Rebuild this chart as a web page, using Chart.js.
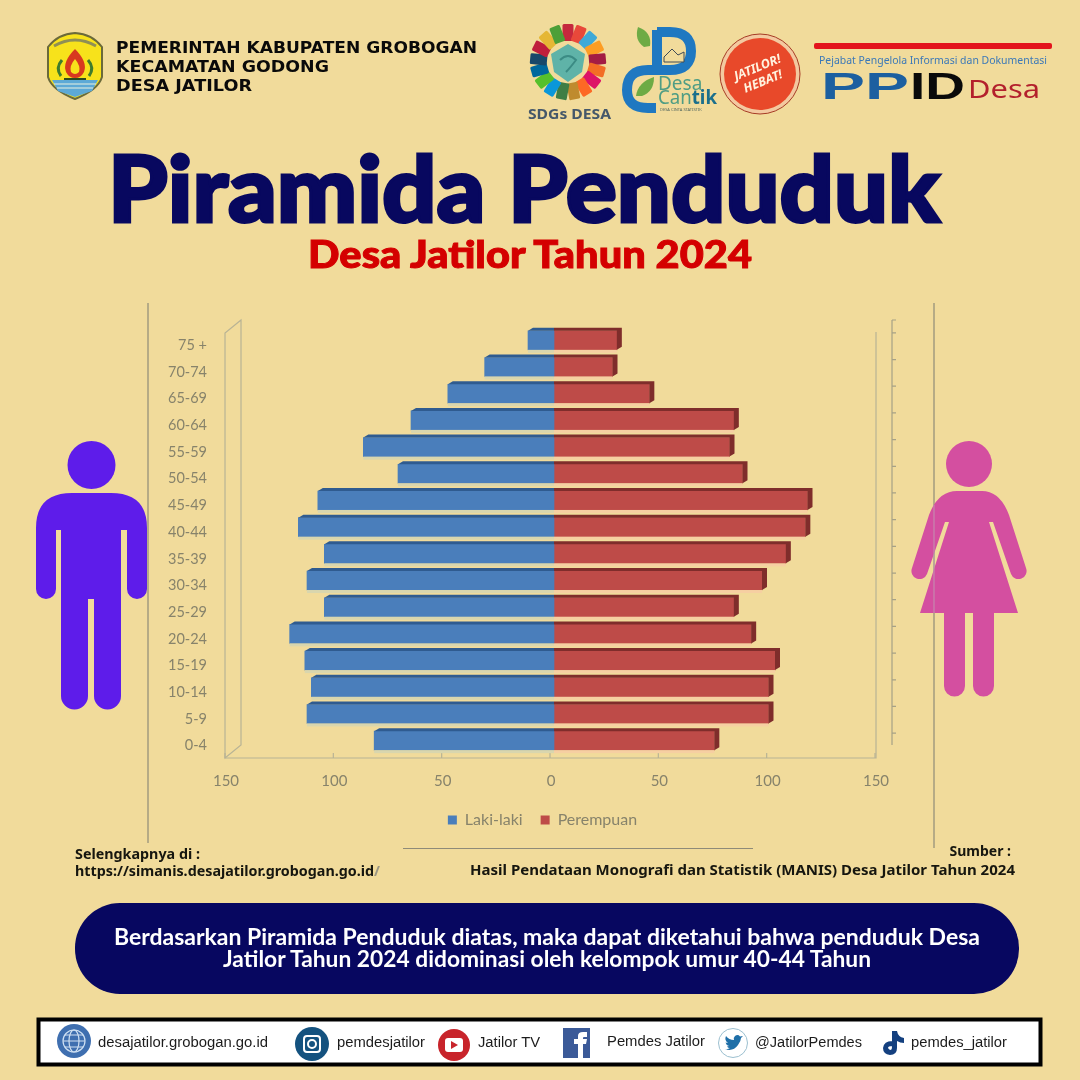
<!DOCTYPE html>
<html>
<head>
<meta charset="utf-8">
<title>Piramida Penduduk Desa Jatilor Tahun 2024</title>
<script src="https://cdn.jsdelivr.net/npm/chart.js@4/dist/chart.umd.min.js"></script>
<style>
  html, body { margin: 0; padding: 0; background: #f1db9b; }
  #page { position: relative; width: 1080px; height: 1080px; overflow: hidden; background: #f1db9b; }
  #pyramid { position: absolute; left: 0; top: 0; }
  #decor { position: absolute; left: 0; top: 0; pointer-events: none; }
  text { font-family: "Noto Sans", sans-serif; }
  .hd { font-family: "DejaVu Sans", sans-serif; font-weight: 700; font-size: 15px; fill: #0a0a0a; }
  .soc { font-family: "Liberation Sans", sans-serif; font-size: 14px; fill: #1c1c1c; }
  .src { font-weight: 700; font-size: 14px; fill: #16160f; }
  .pill { font-family: Lato, sans-serif; font-weight: 700; font-size: 22px; fill: #fff; }
  .ttl { font-family: Lato, sans-serif; font-weight: 900; }
  .ppid { font-family: "Liberation Sans", sans-serif; font-weight: 700; font-size: 36px; }
</style>
</head>
<body>
<div id="page">
  <canvas id="pyramid" width="1080" height="838"></canvas>
  <svg id="decor" width="1080" height="1080" viewBox="0 0 1080 1080">
    <!-- frame lines round the chart -->
    <g stroke="#8f8b78" stroke-width="1.2" fill="none">
      <path d="M148 303V843"/>
      <path d="M934 303V848"/>
      <path d="M403 848.5H753"/>
    </g>

    <!-- header -->
    <g>
      <path d="M48 47Q58 34 75 33Q92 34 102 47V77Q98 90 75 99Q52 90 48 77Z" fill="#f7e21b" stroke="#6b6a3a" stroke-width="2"/>
      <path d="M52 80H98L92 91L75 97L58 91Z" fill="#5da9d6"/>
      <path d="M54 84H96M57 88H93" stroke="#e9f2e0" stroke-width="1.2"/>
      <path d="M75 49Q88 62 84 72Q81 78 75 78Q69 78 66 72Q62 62 75 49Z" fill="#d8391f"/>
      <path d="M75 59Q81 66 79 72Q75 76 71 72Q69 66 75 59Z" fill="#f7e21b"/>
      <path d="M62 60Q55 68 61 76M88 60Q95 68 89 76" stroke="#3f7c2d" stroke-width="3" fill="none"/>
      <path d="M64 79H86" stroke="#2c4a1e" stroke-width="2"/>
      <path d="M54 46Q75 34 96 46" stroke="#8f8f55" stroke-width="3" fill="none"/>
    </g>
    <text class="hd" x="116" y="53" textLength="361" lengthAdjust="spacingAndGlyphs">PEMERINTAH KABUPATEN GROBOGAN</text>
    <text class="hd" x="116" y="72" textLength="213" lengthAdjust="spacingAndGlyphs">KECAMATAN GODONG</text>
    <text class="hd" x="116" y="91" textLength="136" lengthAdjust="spacingAndGlyphs">DESA JATILOR</text>

    <!-- SDGs logo, segments added by the script below -->
    <g id="sdgRing"></g>
    <path d="M568 44L585 54L582 72L568 82L554 72L551 54Z" fill="#5fb3a8"/>
    <path d="M560 60Q568 52 576 60Q570 68 566 72" stroke="#3b8b84" stroke-width="2" fill="none"/>
    <text x="528" y="119" font-size="13.5" font-weight="700" fill="#45586a" textLength="83" lengthAdjust="spacingAndGlyphs">SDGs DESA</text>

    <!-- Desa Cantik logo -->
    <g fill="none" stroke="#1f78c1" stroke-width="10">
      <path d="M657 30V68M657 32H670Q691 32 691 51Q691 70 670 70H648Q627 70 627 90Q627 108 648 108H656"/>
    </g>
    <path d="M644 47Q634 40 638 27Q652 32 650 46Z" fill="#6eab45"/>
    <path d="M636 96Q638 82 654 77Q654 92 642 96Z" fill="#6eab45"/>
    <path d="M664 57L672 49L678 55L684 52V62H664Z" fill="#f1db9b" stroke="#3e4a55" stroke-width="1"/>
    <text x="658" y="90" font-size="19" fill="#4f9d84">Desa</text>
    <text x="658" y="104" font-size="19" fill="#4f9d84" textLength="59" lengthAdjust="spacingAndGlyphs">Can<tspan fill="#1b6f8c" font-weight="700">tik</tspan></text>
    <text x="660" y="111" font-size="4" fill="#55685f">DESA CINTA STATISTIK</text>

    <!-- Jatilor Hebat badge -->
    <circle cx="760" cy="74" r="40" fill="#f3c9a0" stroke="#a53a25" stroke-width="1"/>
    <circle cx="760" cy="74" r="36" fill="#e8492a"/>
    <g transform="rotate(-22 760 74)" fill="#fff3df" text-anchor="middle" font-weight="700" font-style="italic" font-size="12.5">
      <text x="760" y="71">JATILOR!</text>
      <text x="760" y="86">HEBAT!</text>
    </g>

    <!-- PPID logo -->
    <rect x="814" y="43" width="238" height="6" rx="2" fill="#e3141c"/>
    <text x="819" y="64" font-size="10.5" fill="#3b78b8" textLength="228" lengthAdjust="spacingAndGlyphs">Pejabat Pengelola Informasi dan Dokumentasi</text>
    <text class="ppid" x="821" y="99" fill="#1c5fa0" textLength="88" lengthAdjust="spacingAndGlyphs">PP</text>
    <text class="ppid" x="910" y="99" fill="#0a0a0a" textLength="55" lengthAdjust="spacingAndGlyphs">ID</text>
    <text x="968" y="98" font-size="26" fill="#b3202c" textLength="72" lengthAdjust="spacingAndGlyphs">Desa</text>

    <!-- titles -->
    <text class="ttl" x="108" y="222" font-size="92" fill="#08085f" stroke="#08085f" stroke-width="3" textLength="832" lengthAdjust="spacingAndGlyphs">Piramida Penduduk</text>
    <text class="ttl" x="308" y="268" font-size="38" fill="#d40000" stroke="#d40000" stroke-width="1" textLength="444" lengthAdjust="spacingAndGlyphs">Desa Jatilor Tahun 2024</text>

    <!-- figures -->
    <circle cx="91.5" cy="465" r="24" fill="#5e1cea"/>
    <path fill="#5e1cea" d="M36 528Q36 493 72 493H111Q147 493 147 528V589A10 10 0 0 1 127 589V530H121V696A13.5 13.5 0 0 1 94 696V599H88V696A13.5 13.5 0 0 1 61 696V530H56V589A10 10 0 0 1 36 589Z"/>
    <circle cx="969" cy="464" r="23" fill="#d44fa0"/>
    <path fill="#d44fa0" d="M957 491H982Q1000 491 1009 515L1026 568A8 8 0 0 1 1011 574L993 522H989L1018 613H994V686A10.5 10.5 0 0 1 973 686V613H965V686A10.5 10.5 0 0 1 944 686V613H920L949 522H945L927 574A8 8 0 0 1 912 568L929 515Q938 491 957 491Z"/>
    <path d="M934 505V613" stroke="#c0a0b4" stroke-width="1.2" opacity="0.7"/>

    <!-- sources -->
    <text class="src" x="75" y="859" textLength="125" lengthAdjust="spacingAndGlyphs">Selengkapnya di :</text>
    <text class="src" x="75" y="876" textLength="305" lengthAdjust="spacingAndGlyphs">https://simanis.desajatilor.grobogan.go.id<tspan fill="#9a9684">/</tspan></text>
    <text class="src" x="1011" y="856" text-anchor="end">Sumber :</text>
    <text class="src" x="470" y="875" textLength="545" lengthAdjust="spacingAndGlyphs">Hasil Pendataan Monografi dan Statistik (MANIS) Desa Jatilor Tahun 2024</text>

    <!-- conclusion pill -->
    <rect x="75" y="903" width="944" height="91" rx="45" fill="#070760"/>
    <text class="pill" x="114" y="945" textLength="866" lengthAdjust="spacingAndGlyphs">Berdasarkan Piramida Penduduk diatas, maka dapat diketahui bahwa penduduk Desa</text>
    <text class="pill" x="223" y="967" textLength="648" lengthAdjust="spacingAndGlyphs">Jatilor Tahun 2024 didominasi oleh kelompok umur 40-44 Tahun</text>

    <!-- social bar -->
    <rect x="38.5" y="1019.5" width="1002" height="45" fill="#fff" stroke="#000" stroke-width="4"/>
    <circle cx="74" cy="1041" r="17" fill="#3f6fb0"/>
    <g stroke="#cfe0f2" stroke-width="1.2" fill="none">
      <circle cx="74" cy="1041" r="11"/><ellipse cx="74" cy="1041" rx="5" ry="11"/><path d="M63 1041H85M65 1035H83M65 1047H83"/>
    </g>
    <text class="soc" x="98" y="1047" textLength="170" lengthAdjust="spacingAndGlyphs">desajatilor.grobogan.go.id</text>
    <circle cx="312" cy="1044" r="17" fill="#14527f"/>
    <rect x="304" y="1036" width="16" height="16" rx="3" fill="none" stroke="#fff" stroke-width="2"/><circle cx="312" cy="1044" r="4" fill="none" stroke="#fff" stroke-width="2"/>
    <text class="soc" x="337" y="1047" textLength="88" lengthAdjust="spacingAndGlyphs">pemdesjatilor</text>
    <circle cx="454" cy="1045" r="16" fill="#c8242b"/>
    <rect x="445" y="1038" width="18" height="14" rx="3" fill="#fff"/><path d="M451 1041L458 1045L451 1049Z" fill="#c8242b"/>
    <text class="soc" x="478" y="1047" textLength="62" lengthAdjust="spacingAndGlyphs">Jatilor TV</text>
    <rect x="563" y="1028" width="27" height="30" fill="#3b5a98"/>
    <path d="M578 1058V1044H574V1039H578V1036Q578 1032 583 1032H587V1037H584Q583 1037 583 1038V1039H587L586 1044H583V1058Z" fill="#fff"/>
    <text class="soc" x="607" y="1046" textLength="98" lengthAdjust="spacingAndGlyphs">Pemdes Jatilor</text>
    <circle cx="733" cy="1043" r="14.5" fill="#fff" stroke="#9cc0d0" stroke-width="1"/>
    <path d="M725 1049Q733 1052 738 1045Q741 1041 741 1038L743 1036L740 1036.5Q738 1034 735 1036Q733 1038 734 1040Q729 1040 726 1036Q724 1040 728 1043L725.5 1042.5Q726 1045 729 1046L727 1046.5Q728 1048 730 1048Q728 1049.5 725 1049Z" fill="#1f6fa8"/>
    <text class="soc" x="755" y="1047" textLength="107" lengthAdjust="spacingAndGlyphs">@JatilorPemdes</text>
    <path d="M892 1031H897Q898 1037 904 1038V1043Q900 1043 897 1041V1048Q897 1055 890 1055Q883 1054 883 1048Q884 1041 892 1041V1046Q888 1046 888 1048Q889 1050 891 1050Q892 1049 892 1047Z" fill="#14407f"/>
    <text class="soc" x="911" y="1047" textLength="96" lengthAdjust="spacingAndGlyphs">pemdes_jatilor</text>
  </svg>
</div>

<script>
const ageGroups = ['75 +', '70-74', '65-69', '60-64', '55-59', '50-54', '45-49', '40-44',
  '35-39', '30-34', '25-29', '20-24', '15-19', '10-14', '5-9', '0-4'];
const lakiLaki = [12, 32, 49, 66, 88, 72, 109, 118, 106, 114, 106, 122, 115, 112, 114, 83];
const perempuan = [29, 27, 44, 83, 81, 87, 117, 116, 107, 96, 83, 91, 102, 99, 99, 74];
const axisTicks = [-150, -100, -50, 0, 50, 100, 150];
const sdgColors = ['#c5283d', '#e8483a', '#3fa9d8', '#fd9d24', '#a31c44', '#f36d25', '#dd1367', '#fd6925',
  '#bf8b2e', '#3f7e44', '#0a97d9', '#56c02b', '#00689d', '#19486a', '#bf1e3c', '#e5b735', '#4c9f38'];

// logo ring
const ns = 'http://www.w3.org/2000/svg';
sdgColors.forEach((c, i) => {
    const a = i * 360 / sdgColors.length;
    const seg = document.createElementNS(ns, 'rect');
    seg.setAttribute('x', 562.5);
    seg.setAttribute('y', 24);
    seg.setAttribute('width', 11);
    seg.setAttribute('height', 17);
    seg.setAttribute('rx', 1.5);
    seg.setAttribute('fill', c);
    seg.setAttribute('transform', 'rotate(' + a + ' 568 62)');
    document.getElementById('sdgRing').appendChild(seg);
});

const tickColor = '#87836b';
const wallColor = '#b8b395';
const depthX = 5, depthY = 3;

// fake 3D look of the original spreadsheet chart
const depthPlugin = {
    id: 'depth',
    afterLayout(chart) {
        // legend sits under the whole page, not under the plot box
        chart.legend.left += 103;
        chart.legend.right += 103;
    },
    beforeDatasetsDraw(chart) {
        const c = chart.ctx, x = chart.scales.x, y = chart.scales.y;
        const floor = y.bottom + 4, front = x.left - 4, right = x.right - 3;
        c.save();
        c.strokeStyle = wallColor;
        c.lineWidth = 1.2;
        // left wall
        c.beginPath();
        c.moveTo(front + 16, y.top - 7);
        c.lineTo(front, y.top + 6);
        c.lineTo(front, floor);
        c.lineTo(front + 16, floor - 13);
        c.closePath();
        c.stroke();
        // floor and right wall
        c.beginPath();
        c.moveTo(front, floor);
        c.lineTo(right, floor);
        c.lineTo(right, y.top + 5);
        c.stroke();
        axisTicks.forEach(v => {
            const px = x.getPixelForValue(v) - 4;
            c.beginPath();
            c.moveTo(px, floor);
            c.lineTo(px, floor - 5);
            c.stroke();
        });
        // back axis on the right
        const back = x.right + 13;
        c.strokeStyle = '#a6a186';
        c.beginPath();
        c.moveTo(back, y.top - 7);
        c.lineTo(back, floor - 13);
        c.moveTo(back, y.top - 7);
        c.lineTo(back + 4, y.top - 7);
        ageGroups.forEach((g, i) => {
            const py = y.getPixelForTick(i) - 7.5;
            c.moveTo(back, py);
            c.lineTo(back + 4, py);
        });
        c.stroke();
        c.restore();
    },
    afterDatasetsDraw(chart) {
        const c = chart.ctx;
        const left = chart.getDatasetMeta(0).data, right = chart.getDatasetMeta(1).data;
        c.save();
        left.forEach(b => {
            const top = b.y - b.height / 2, bot = b.y + b.height / 2;
            c.fillStyle = '#d9d6ae';
            c.fillRect(b.x, bot, b.base - b.x, 3);
            c.fillStyle = '#2f5b90';
            c.beginPath();
            c.moveTo(b.x, top);
            c.lineTo(b.x + depthX, top - depthY);
            c.lineTo(b.base, top - depthY);
            c.lineTo(b.base, top);
            c.closePath();
            c.fill();
        });
        right.forEach(b => {
            const top = b.y - b.height / 2, bot = b.y + b.height / 2;
            c.fillStyle = '#f6cfa2';
            c.fillRect(b.base, bot, b.x - b.base, 3);
            c.fillStyle = '#7f2d2b';
            c.beginPath();
            c.moveTo(b.base, top);
            c.lineTo(b.base, top - depthY);
            c.lineTo(b.x + depthX, top - depthY);
            c.lineTo(b.x + depthX, bot - depthY);
            c.lineTo(b.x, bot);
            c.lineTo(b.x, top);
            c.closePath();
            c.fill();
        });
        c.restore();
    }
};

new Chart(document.getElementById('pyramid').getContext('2d'), {
    type: 'bar',
    data: {
        labels: ageGroups,
        datasets: [
            { label: 'Laki-laki', data: lakiLaki.map(v => -v), backgroundColor: '#4a7ebb', barThickness: 19 },
            { label: 'Perempuan', data: perempuan, backgroundColor: '#be4b48', barThickness: 19 }
        ]
    },
    options: {
        indexAxis: 'y',
        responsive: false,
        animation: false,
        layout: { padding: { top: 327, right: 201, left: 0, bottom: 0 } },
        scales: {
            x: {
                stacked: true,
                min: -150,
                max: 150,
                grid: { display: false, drawTicks: false },
                border: { display: false },
                afterFit(axis) { axis.height = 40; },
                ticks: {
                    stepSize: 50,
                    maxRotation: 0,
                    padding: 18,
                    labelOffset: -3,
                    color: tickColor,
                    font: { size: 15, family: 'Lato' },
                    callback: v => Math.abs(v)
                }
            },
            y: {
                stacked: true,
                grid: { display: false, drawTicks: false },
                border: { display: false },
                afterFit(axis) { axis.width = 229; },
                ticks: {
                    padding: 22,
                    labelOffset: 5,
                    autoSkip: false,
                    color: tickColor,
                    font: { size: 14.5, family: 'Lato' }
                }
            }
        },
        plugins: {
            title: { display: false },
            tooltip: { enabled: false },
            legend: {
                position: 'bottom',
                labels: {
                    boxWidth: 9,
                    boxHeight: 9,
                    padding: 18,
                    color: tickColor,
                    font: { size: 16, family: 'Lato' }
                }
            }
        }
    },
    plugins: [depthPlugin]
});
</script>
</body>
</html>
